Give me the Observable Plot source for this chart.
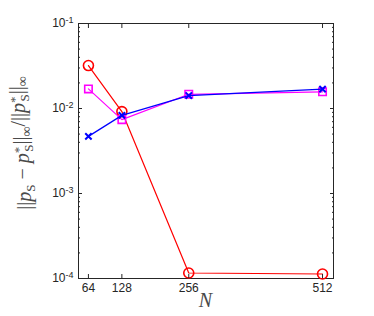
<!DOCTYPE html>
<html>
<head>
<meta charset="utf-8">
<script src="https://cdn.jsdelivr.net/npm/d3@7"></script>
<script src="https://cdn.jsdelivr.net/npm/@observablehq/plot@0.6"></script>
<style>
  html, body { margin: 0; padding: 0; background: #fff; }
  #chart svg { display: block; }
</style>
</head>
<body>
<div id="chart"></div>
<script>
// ---- data ----
const N = [64, 128, 256, 512];
const errRed = [0.032, 0.0092, 1.16e-4, 1.13e-4];
const errMagenta = [0.017, 0.0074, 0.0147, 0.0157];
const errBlue = [0.0047, 0.0083, 0.0142, 0.0169];
const xTicks = [64, 128, 256, 512];
const yMajor = [1e-4, 1e-3, 1e-2, 1e-1];
const yTickLabels = ["-4", "-3", "-2", "-1"];

const series = [
  {name: "red", values: errRed, color: "#ff0000", symbol: "circle", r: 5, sw: 1.6},
  {name: "magenta", values: errMagenta, color: "#ff00ff", symbol: "square", r: 4.2, sw: 1.6},
  {name: "blue", values: errBlue, color: "#0000ff", symbol: "times", r: 3, sw: 2}
];
const rows = series.map(s => N.map((n, i) => ({N: n, err: s.values[i]})));

const yMinor = [];
for (let e = -4; e < -1; e++) for (let m = 2; m <= 9; m++) yMinor.push(m * Math.pow(10, e));

const axisColor = "#262626";
const noLabel = () => "";
const marks = [];
marks.push(Plot.frame({stroke: axisColor, strokeWidth: 1}));
series.forEach((s, k) => {
  marks.push(Plot.line(rows[k], {x: "N", y: "err", stroke: s.color, strokeWidth: 1.2}));
  marks.push(Plot.dot(rows[k], {x: "N", y: "err", symbol: () => s.symbol, r: s.r, stroke: s.color, strokeWidth: s.sw, fill: "none"}));
});
// axes: labels
marks.push(Plot.axisX({anchor: "bottom", ticks: xTicks, tickSize: 0, tickPadding: 5, label: null, fontSize: 12, color: axisColor}));
marks.push(Plot.axisY({anchor: "left", ticks: yMajor, tickSize: 0, tickPadding: 5, label: null, tickFormat: () => "10", fontSize: 12, color: axisColor}));
// inward ticks
marks.push(Plot.axisX({anchor: "bottom", ticks: xTicks, tickSize: -4, tickFormat: noLabel, label: null, stroke: axisColor}));
marks.push(Plot.axisX({anchor: "top", ticks: xTicks, tickSize: -4, tickFormat: noLabel, label: null, stroke: axisColor}));
marks.push(Plot.axisY({anchor: "left", ticks: yMajor, tickSize: -4, tickFormat: noLabel, label: null, stroke: axisColor}));
marks.push(Plot.axisY({anchor: "right", ticks: yMajor, tickSize: -4, tickFormat: noLabel, label: null, stroke: axisColor}));
marks.push(Plot.axisY({anchor: "left", ticks: yMinor, tickSize: -2, tickFormat: noLabel, label: null, stroke: axisColor}));
marks.push(Plot.axisY({anchor: "right", ticks: yMinor, tickSize: -2, tickFormat: noLabel, label: null, stroke: axisColor}));

const chart = Plot.plot({
  width: 374,
  height: 316,
  marginLeft: 78,
  marginRight: 41,
  marginTop: 23,
  marginBottom: 38,
  style: {fontFamily: "'Liberation Sans', Arial, sans-serif", background: "#fff"},
  x: {type: "linear", domain: [45, 533]},
  y: {type: "log", domain: [1e-4, 1e-1]},
  marks
});
document.getElementById("chart").appendChild(chart);

const svg = d3.select(chart);
// superscript exponents on y tick labels (first y tick-label group only)
svg.select('g[aria-label="y-axis tick label"]').selectAll("text").each(function(d, i) {
  const t = d3.select(this);
  const exp = yTickLabels[i];
  t.text(null);
  t.append("tspan").text("10");
  t.append("tspan").attr("dy", "-0.45em").attr("font-size", "9px").text(exp);
});

// y-axis label (math style)
const yl = svg.append("text")
  .attr("transform", "translate(31,143) rotate(-90)")
  .attr("text-anchor", "middle")
  .attr("fill", "#4a4a4a")
  .attr("font-family", "'Liberation Serif', 'DejaVu Serif', serif")
  .attr("font-size", "20px");
function part(txt, opts = {}) {
  const ts = yl.append("tspan").text(txt);
  if (opts.italic) ts.attr("font-style", "italic");
  if (opts.dy) ts.attr("dy", opts.dy);
  if (opts.size) ts.attr("font-size", opts.size);
  if (opts.dx) ts.attr("dx", opts.dx);
  return ts;
}
part("||");
part("p", {italic: true});
part("S", {dy: "0.3em", size: "13px"});
part(" − ", {dy: "-0.3em"});
part("p", {italic: true});
part("*", {dy: "-0.45em", size: "13px"});
part("S", {dy: "0.75em", size: "13px", dx: "-5px"});
part("||", {dy: "-0.3em"});
part("∞", {dy: "0.3em", size: "14px"});
part("/||", {dy: "-0.3em"});
part("p", {italic: true});
part("*", {dy: "-0.45em", size: "13px"});
part("S", {dy: "0.75em", size: "13px", dx: "-5px"});
part("||", {dy: "-0.3em"});
part("∞", {dy: "0.3em", size: "14px"});

// x-axis label
svg.append("text")
  .attr("x", 205.5)
  .attr("y", 307)
  .attr("text-anchor", "middle")
  .attr("fill", "#4a4a4a")
  .attr("font-family", "'Liberation Serif', 'DejaVu Serif', serif")
  .attr("font-style", "italic")
  .attr("font-size", "20px")
  .text("N");
</script>
</body>
</html>
